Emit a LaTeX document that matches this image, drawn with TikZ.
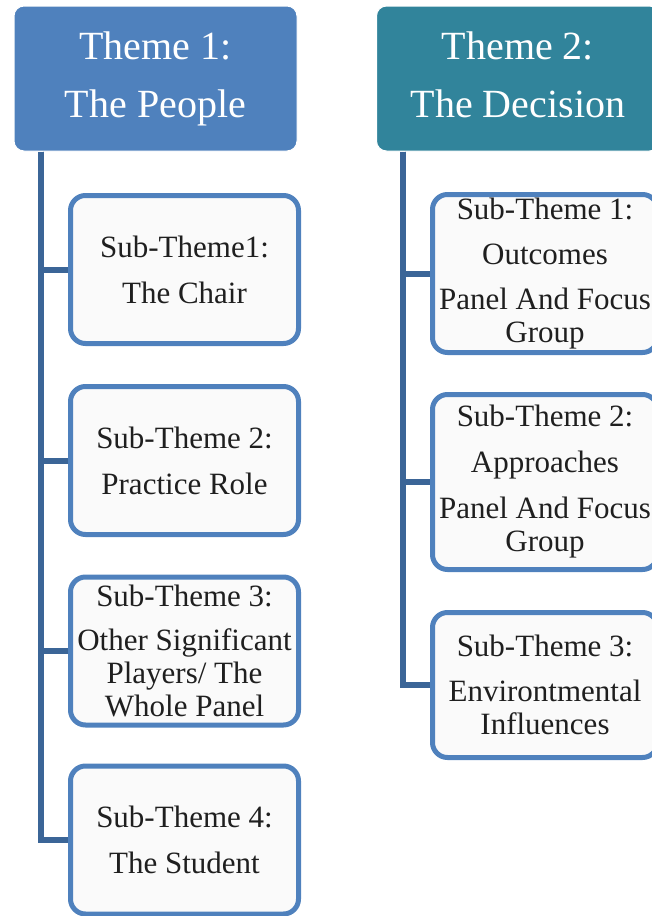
\documentclass[tikz,border=0pt]{standalone}
\usepackage{fontspec}
\setmainfont{Liberation Serif}

\definecolor{themeblue}{HTML}{4F81BD}
\definecolor{themeteal}{HTML}{31849B}
\definecolor{trunkblue}{HTML}{3B6597}
\definecolor{boxfill}{HTML}{FAFAFA}

\begin{document}
\begin{tikzpicture}[x=1pt,y=-1pt,
	theme/.style={rounded corners=10pt,minimum width=283pt,minimum height=145pt,
		draw=white,line width=1pt,text=white,align=center,
		font=\fontsize{40}{58}\selectfont},
	subbox/.style={draw=themeblue,fill=boxfill,line width=5pt,rounded corners=15pt,
		minimum width=228pt,minimum height=148pt,align=center,text=black!88,
		font=\fontsize{31}{33}\selectfont},
	trunk/.style={draw=trunkblue,line width=6pt}]

\useasboundingbox (0,0) rectangle (652,916);

\node (t1) at (155.5,78.5) [theme,fill=themeblue] {Theme 1:\\The People};
\node (t2) at (518,78.5) [theme,fill=themeteal] {Theme 2:\\The Decision\vphantom{p}};

\node (a1) at (184.5,269.5) [subbox] {Sub-Theme1:\\[13pt]The Chair};
\node (a2) at (184.5,460.5) [subbox] {Sub-Theme 2:\\[13pt]Practice Role};
\node (a3) at (184.5,651) [subbox] {Sub-Theme 3:\\[11pt]Other Significant\\Players/ The\\Whole Panel};
\node (a4) at (184.5,840) [subbox] {Sub-Theme 4:\\[13pt]The Student};

\node (b1) at (545,273.5) [subbox,minimum width=225pt,minimum height=158pt]
	{Sub-Theme 1:\\[12pt]Outcomes\\[12pt]Panel And Focus\\Group};
\node (b2) at (545,482) [subbox,minimum width=225pt,minimum height=175pt]
	{Sub-Theme 2:\\[13pt]Approaches\\[13pt]Panel And Focus\\Group};
\node (b3) at (545,685) [subbox,minimum width=225pt,minimum height=145pt]
	{Sub-Theme 3:\\[12pt]Environtmental\\Influences};

% trunks
\foreach \s in {a1,a2,a3,a4}
	\draw[trunk] ([xshift=27pt]t1.south west) |- (\s.west);
\foreach \s in {b1,b2,b3}
	\draw[trunk] ([xshift=27pt]t2.south west) |- (\s.west);

\end{tikzpicture}
\end{document}
